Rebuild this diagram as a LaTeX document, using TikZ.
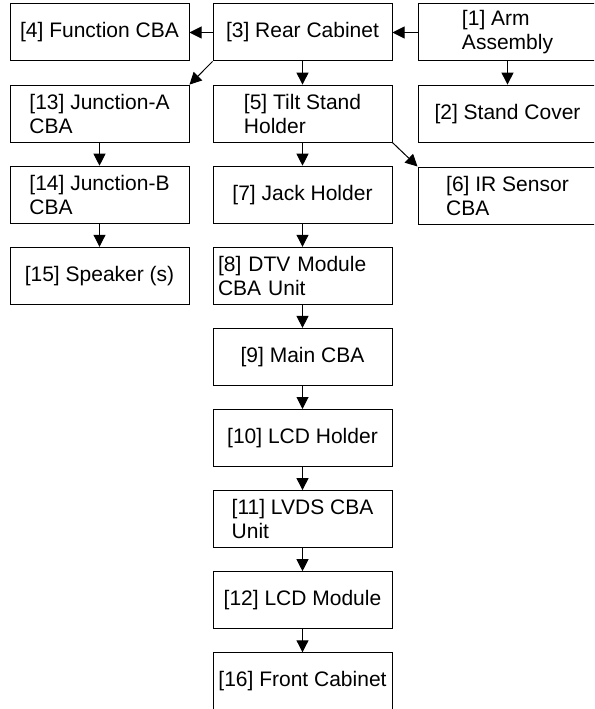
\documentclass[tikz,border=0pt]{standalone}
\usepackage{fontspec}
\setmainfont{Liberation Sans}
\usetikzlibrary{arrows.meta}
\usetikzlibrary{positioning}

\tikzset{
 part/.style={draw, line width=1pt, minimum width=179pt, minimum height=57pt, inner sep=0pt, align=left, font=\fontsize{21}{24}\selectfont},
 link/.style={line width=1pt, -{Triangle[length=12pt,width=12pt]}}
}

\begin{document}
\begin{tikzpicture}[x=1pt, y=-1pt, node distance=23.1pt]
\useasboundingbox (0,0) rectangle (594,709);
\clip (0,0) rectangle (594,709);
\node[part] (p4) at (99.5,32.5) {[4] Function CBA};
\node[part] (p3) at (302.5,32.5) {[3] Rear Cabinet};
\node[part] (p1) at (507.5,32.5) {[1] Arm\\Assembly};
\node[part, below=of p4] (p13) {[13] Junction-A\\CBA};
\node[part, below=of p13] (p14) {[14] Junction-B\\CBA};
\node[part, below=of p14] (p15) {[15] Speaker (s)};
\node[part, below=of p1] (p2) {[2] Stand Cover};
\node[part] (p6) at (507.5,195.5) {[6] IR Sensor\\CBA};
\node[part, below=of p3] (p5) {[5] Tilt Stand\\Holder};
\node[part, below=of p5] (p7) {[7] Jack Holder};
\node[part, below=of p7, text width=169pt] (p8) {[8] DTV Module\\CBA Unit};
\node[part, below=of p8] (p9) {[9] Main CBA};
\node[part, below=of p9] (p10) {[10] LCD Holder};
\node[part, below=of p10] (p11) {[11] LVDS CBA\\Unit};
\node[part, below=of p11] (p12) {[12] LCD Module};
\node[part, below=of p12] (p16) {[16] Front Cabinet};
\draw[link] (p3) -- (p4);
\draw[link] (p1) -- (p3);
\draw[link] (p1) -- (p2);
\draw[link] (p3.south west) -- (p13.north east);
\draw[link] (p5.south east) -- (p6.north west);
\foreach \a/\b in {p13/p14,p14/p15,p3/p5,p5/p7,p7/p8,p8/p9,p9/p10,p10/p11,p11/p12,p12/p16}
 \draw[link] (\a) -- (\b);
\end{tikzpicture}
\end{document}
